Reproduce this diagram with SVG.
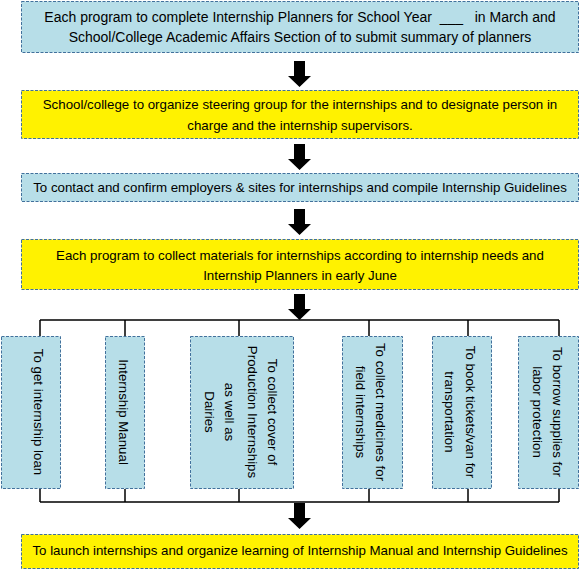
<svg xmlns="http://www.w3.org/2000/svg" width="581" height="571" viewBox="0 0 581 571">
<style>
.box{stroke:#41719C;stroke-width:1;stroke-dasharray:3 1.5}
.blue{fill:#B7DEE8}
.yel{fill:#FFF200}
text{font-family:"Liberation Sans",Arial,sans-serif;font-size:13.3px;fill:#000}
.big{font-size:14px}
.c{text-anchor:middle}
.ln{stroke:#000;stroke-width:1.5;fill:none}
.arr{fill:#000}
</style>
<defs>
<path id="ar" d="M-5.5,0 H5.5 V15 H11.5 L0,26 L-11.5,15 H-5.5 Z"/>
</defs>
<rect width="581" height="571" fill="#fff"/>
<g id="n1">
<rect class="box blue" x="21.5" y="1.5" width="557" height="51"/>
<text class="c big" x="300" y="22" style="white-space:pre">Each program to complete Internship Planners for School Year  ___   in March and</text>
<text class="c big" x="300" y="42">School/College Academic Affairs Section of to submit summary of planners</text>
</g>
<g id="n2">
<rect class="box yel" x="21.5" y="90.5" width="557" height="48"/>
<text class="c" x="300" y="109">School/college to organize steering group for the internships and to designate person in</text>
<text class="c" x="300" y="130">charge and the internship supervisors.</text>
</g>
<g id="n3">
<rect class="box blue" x="21.5" y="173.5" width="557" height="28"/>
<text class="c" x="300" y="192">To contact and confirm employers &amp; sites for internships and compile Internship Guidelines</text>
</g>
<g id="n4">
<rect class="box yel" x="21.5" y="239.5" width="557" height="50"/>
<text class="c" x="300" y="260">Each program to collect materials for internships according to internship needs and</text>
<text class="c" x="300" y="280">Internship Planners in early June</text>
</g>
<g id="s1">
<rect class="box blue" x="1.5" y="336.5" width="59" height="152"/>
<text class="c" transform="translate(34,412) rotate(90)">To get internship loan</text>
</g>
<g id="s2">
<rect class="box blue" x="105.5" y="336.5" width="39" height="152"/>
<text class="c" transform="translate(119,412) rotate(90)">Internship Manual</text>
</g>
<g id="s3">
<rect class="box blue" x="190.5" y="336.5" width="103" height="152"/>
<text class="c" transform="translate(267.5,412) rotate(90)"><tspan x="0" y="0">To collect cover of</tspan><tspan x="0" y="20">Production Internships</tspan><tspan x="0" y="43">as well as</tspan><tspan x="0" y="63">Dairies</tspan></text>
</g>
<g id="s4">
<rect class="box blue" x="342.5" y="336.5" width="60" height="152"/>
<text class="c" transform="translate(375.5,412) rotate(90)"><tspan x="0" y="0">To collect medicines for</tspan><tspan x="0" y="20">field internships</tspan></text>
</g>
<g id="s5">
<rect class="box blue" x="432.5" y="336.5" width="59" height="152"/>
<text class="c" transform="translate(465.5,412) rotate(90)"><tspan x="0" y="0">To book tickets/van for</tspan><tspan x="0" y="21">transportation</tspan></text>
</g>
<g id="s6">
<rect class="box blue" x="518.5" y="336.5" width="60" height="152"/>
<text class="c" transform="translate(552.5,412) rotate(90)"><tspan x="0" y="0">To borrow supplies for</tspan><tspan x="0" y="20">labor protection</tspan></text>
</g>
<g id="n5">
<rect class="box yel" x="21.5" y="534.5" width="557" height="34"/>
<text class="c" x="300" y="555">To launch internships and organize learning of Internship Manual and Internship Guidelines</text>
</g>
<g id="connectors">
<use href="#ar" class="arr" x="299.5" y="61"/>
<use href="#ar" class="arr" x="299.5" y="144"/>
<use href="#ar" class="arr" x="299.5" y="209"/>
<use href="#ar" class="arr" x="299.5" y="294"/>
<use href="#ar" class="arr" x="299.5" y="503"/>
<path class="ln" d="M40,320 H559 M40,320 V336 M125,320 V336 M239,320 V336 M369,320 V336 M468,320 V336 M559,320 V336"/>
<path class="ln" d="M40,502 H559 M40,489 V502 M125,489 V502 M239,489 V502 M369,489 V502 M468,489 V502 M559,489 V502"/>
</g>
</svg>
